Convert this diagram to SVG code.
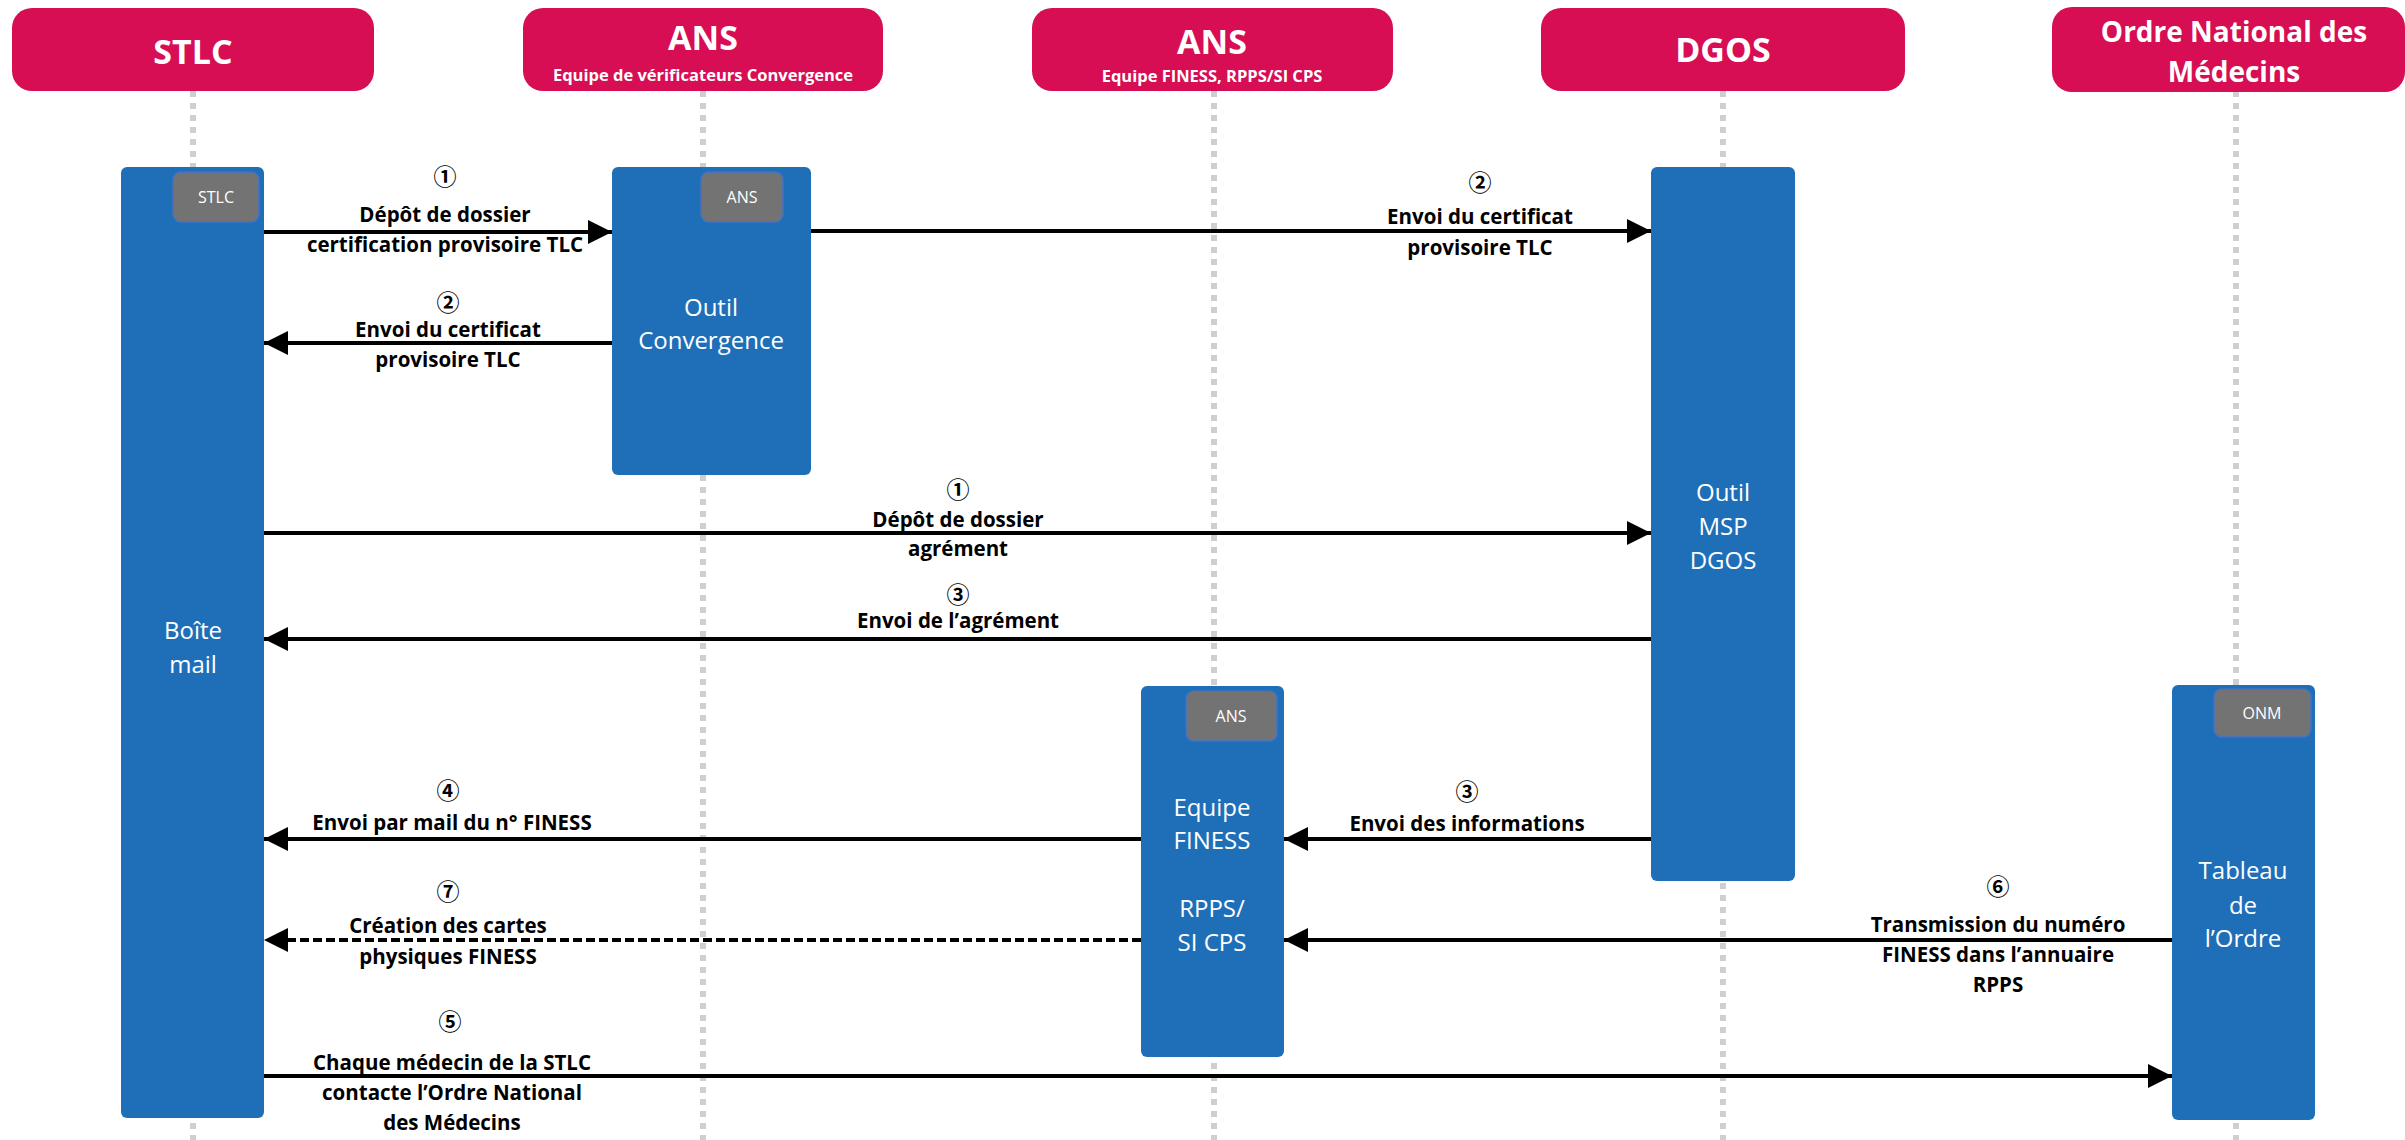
<svg xmlns="http://www.w3.org/2000/svg" width="2405" height="1140" viewBox="0 0 2405 1140">
<style>
.hdr{fill:#D70E53}
.hdrt{font-family:"Open Sans","Noto Sans",sans-serif;font-weight:700;fill:#fff;text-anchor:middle}
.life{stroke:#CFCFCF;stroke-width:6;stroke-dasharray:6 6;fill:none}
.act{fill:#1F6FB8}
.tag{fill:#737373;stroke:#4472C4;stroke-width:1.5}
.tagt{font-family:"Open Sans","Noto Sans",sans-serif;font-size:16px;fill:#fff;text-anchor:middle}
.actt{font-family:"Open Sans","Noto Sans",sans-serif;font-size:24px;fill:#fff;text-anchor:middle}
.msg{stroke:#000;stroke-width:4;fill:none}
.dash{stroke-dasharray:9 4}
.lbl{font-family:"Open Sans","Noto Sans",sans-serif;font-size:20.5px;font-weight:700;fill:#000;text-anchor:middle}
.num{font-family:"Noto Sans CJK JP","DejaVu Sans",sans-serif;font-size:23px;font-weight:700;fill:#000;text-anchor:middle}
</style>
<defs>
<marker id="ah" markerUnits="userSpaceOnUse" markerWidth="24" markerHeight="24" refX="24" refY="12" orient="auto">
<path d="M0,0 L24,12 L0,24 Z" fill="#000"/>
</marker>
</defs>
<rect width="2405" height="1140" fill="#fff"/>

<g id="lifelines">
<line class="life" x1="193" y1="91" x2="193" y2="1140"/>
<line class="life" x1="703" y1="91" x2="703" y2="1140"/>
<line class="life" x1="1214" y1="91" x2="1214" y2="1140"/>
<line class="life" x1="1723" y1="91" x2="1723" y2="1140"/>
<line class="life" x1="2236" y1="91" x2="2236" y2="1140"/>
</g>

<g id="hdr-stlc">
<rect class="hdr" x="12" y="8" width="362" height="83" rx="20"/>
<text class="hdrt" x="193" y="64" font-size="34">STLC</text>
</g>
<g id="hdr-ans1">
<rect class="hdr" x="523" y="8" width="360" height="83" rx="20"/>
<text class="hdrt" x="703" y="50" font-size="34">ANS</text>
<text class="hdrt" x="703" y="81" font-size="16.5">Equipe de vérificateurs Convergence</text>
</g>
<g id="hdr-ans2">
<rect class="hdr" x="1032" y="8" width="361" height="83" rx="20"/>
<text class="hdrt" x="1212" y="54" font-size="34">ANS</text>
<text class="hdrt" x="1212" y="82" font-size="16.5">Equipe FINESS, RPPS/SI CPS</text>
</g>
<g id="hdr-dgos">
<rect class="hdr" x="1541" y="8" width="364" height="83" rx="20"/>
<text class="hdrt" x="1723" y="62" font-size="34">DGOS</text>
</g>
<g id="hdr-onm">
<rect class="hdr" x="2052" y="7" width="353" height="85" rx="20"/>
<text class="hdrt" x="2234" y="42" font-size="28">Ordre National des</text>
<text class="hdrt" x="2234" y="82" font-size="28">Médecins</text>
</g>

<g id="box-stlc">
<rect class="act" x="121" y="167" width="143" height="951" rx="6"/>
<rect class="tag" x="173" y="172" width="86" height="50" rx="8"/>
<text class="tagt" x="216" y="203">STLC</text>
<text class="actt" x="193" y="639">Boîte</text>
<text class="actt" x="193" y="673">mail</text>
</g>
<g id="box-convergence">
<rect class="act" x="612" y="167" width="199" height="308" rx="6"/>
<rect class="tag" x="701" y="172" width="82" height="50" rx="8"/>
<text class="tagt" x="742" y="203">ANS</text>
<text class="actt" x="711" y="316">Outil</text>
<text class="actt" x="711" y="349">Convergence</text>
</g>
<g id="box-dgos">
<rect class="act" x="1651" y="167" width="144" height="714" rx="6"/>
<text class="actt" x="1723" y="501">Outil</text>
<text class="actt" x="1723" y="535">MSP</text>
<text class="actt" x="1723" y="569">DGOS</text>
</g>
<g id="box-finess">
<rect class="act" x="1141" y="686" width="143" height="371" rx="6"/>
<rect class="tag" x="1186" y="691" width="91" height="50" rx="8"/>
<text class="tagt" x="1231" y="722">ANS</text>
<text class="actt" x="1212" y="816">Equipe</text>
<text class="actt" x="1212" y="849">FINESS</text>
<text class="actt" x="1212" y="917">RPPS/</text>
<text class="actt" x="1212" y="951">SI CPS</text>
</g>
<g id="box-onm">
<rect class="act" x="2172" y="685" width="143" height="435" rx="6"/>
<rect class="tag" x="2214" y="689" width="97" height="48" rx="8"/>
<text class="tagt" x="2262" y="719">ONM</text>
<text class="actt" x="2243" y="879">Tableau</text>
<text class="actt" x="2243" y="914">de</text>
<text class="actt" x="2243" y="947">l’Ordre</text>
</g>

<g id="connectors">
<line class="msg" x1="264" y1="232" x2="612" y2="232" marker-end="url(#ah)"/>
<line class="msg" x1="811" y1="231" x2="1651" y2="231" marker-end="url(#ah)"/>
<line class="msg" x1="612" y1="343" x2="264" y2="343" marker-end="url(#ah)"/>
<line class="msg" x1="264" y1="533" x2="1651" y2="533" marker-end="url(#ah)"/>
<line class="msg" x1="1651" y1="639" x2="264" y2="639" marker-end="url(#ah)"/>
<line class="msg" x1="1651" y1="839" x2="1284" y2="839" marker-end="url(#ah)"/>
<line class="msg" x1="1141" y1="839" x2="264" y2="839" marker-end="url(#ah)"/>
<line class="msg dash" x1="1141" y1="940" x2="288" y2="940"/>
<path d="M288,928 L264,940 L288,952 Z" fill="#000"/>
<line class="msg" x1="2172" y1="940" x2="1284" y2="940" marker-end="url(#ah)"/>
<line class="msg" x1="264" y1="1076" x2="2172" y2="1076" marker-end="url(#ah)"/>

<text class="num" x="445" y="185">①</text>
<text class="lbl" x="445" y="222">Dépôt de dossier</text>
<text class="lbl" x="445" y="252">certification provisoire TLC</text>

<text class="num" x="1480" y="191">②</text>
<text class="lbl" x="1480" y="224">Envoi du certificat</text>
<text class="lbl" x="1480" y="255">provisoire TLC</text>

<text class="num" x="448" y="311">②</text>
<text class="lbl" x="448" y="337">Envoi du certificat</text>
<text class="lbl" x="448" y="367">provisoire TLC</text>

<text class="num" x="958" y="498">①</text>
<text class="lbl" x="958" y="527">Dépôt de dossier</text>
<text class="lbl" x="958" y="556">agrément</text>

<text class="num" x="958" y="603">③</text>
<text class="lbl" x="958" y="628">Envoi de l’agrément</text>

<text class="num" x="1467" y="800">③</text>
<text class="lbl" x="1467" y="831">Envoi des informations</text>

<text class="num" x="448" y="799">④</text>
<text class="lbl" x="452" y="830">Envoi par mail du n° FINESS</text>

<text class="num" x="448" y="900">⑦</text>
<text class="lbl" x="448" y="933">Création des cartes</text>
<text class="lbl" x="448" y="964">physiques FINESS</text>

<text class="num" x="1998" y="895">⑥</text>
<text class="lbl" x="1998" y="932">Transmission du numéro</text>
<text class="lbl" x="1998" y="962">FINESS dans l’annuaire</text>
<text class="lbl" x="1998" y="992">RPPS</text>

<text class="num" x="450" y="1030">⑤</text>
<text class="lbl" x="452" y="1070">Chaque médecin de la STLC</text>
<text class="lbl" x="452" y="1100">contacte l’Ordre National</text>
<text class="lbl" x="452" y="1130">des Médecins</text>
</g>
</svg>
